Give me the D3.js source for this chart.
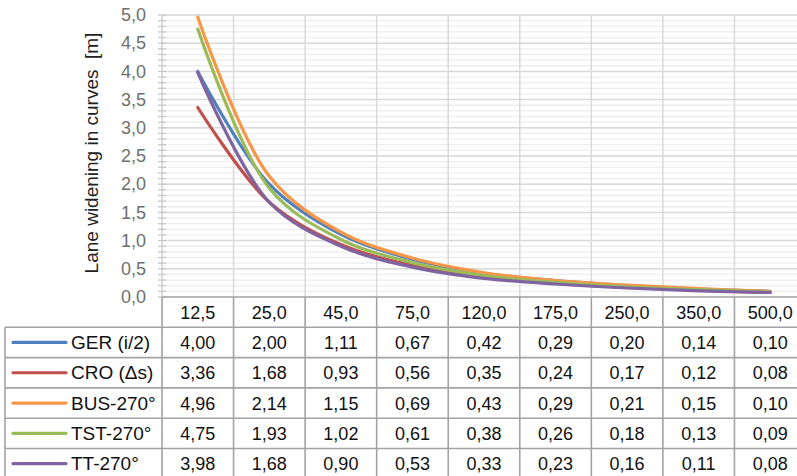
<!DOCTYPE html>
<html>
<head>
<meta charset="utf-8">
<script src="https://cdn.jsdelivr.net/npm/d3@7"></script>
<style>
  body { margin: 0; background: #fff; }
  text { font-family: "Liberation Sans", Arial, sans-serif; }
</style>
</head>
<body>
<svg id="chart" width="797" height="476"></svg>
<script>
// radii (category labels)
var radii = ["12,5", "25,0", "45,0", "75,0", "120,0", "175,0", "250,0", "350,0", "500,0"];
var seriesNames = ["GER (i/2)", "CRO (\u0394s)", "BUS-270\u00b0", "TST-270\u00b0", "TT-270\u00b0"];
var ger = [4.00, 2.00, 1.11, 0.67, 0.42, 0.29, 0.20, 0.14, 0.10];
var cro = [3.36, 1.68, 0.93, 0.56, 0.35, 0.24, 0.17, 0.12, 0.08];
var bus = [4.96, 2.14, 1.15, 0.69, 0.43, 0.29, 0.21, 0.15, 0.10];
var tst = [4.75, 1.93, 1.02, 0.61, 0.38, 0.26, 0.18, 0.13, 0.09];
var tt  = [3.98, 1.68, 0.90, 0.53, 0.33, 0.23, 0.16, 0.11, 0.08];
var colors = ["#4f81bd", "#c0504d", "#f79646", "#9bbb59", "#8064a2"];
var yTicks = [0, 0.5, 1, 1.5, 2, 2.5, 3, 3.5, 4, 4.5, 5];

var allSeries = [ger, cro, bus, tst, tt];

var svg = d3.select("#chart");
var pLeft = 162, pRight = 806, pTop = 15, pBottom = 297;
var rowH = 30.3;
var fs = "18px";

var x = d3.scaleBand().domain(radii).range([pLeft, pRight]);
var y = d3.scaleLinear().domain([0, 5]).range([pBottom, pTop]);

var fmt = function(v){ return v.toFixed(2).replace(".", ","); };

// minor gridlines (0.1)
var minor = d3.range(0, 51).map(function(d){ return d / 10; });
svg.append("g").selectAll("line").data(minor).enter().append("line")
  .attr("x1", pLeft).attr("x2", pRight)
  .attr("y1", function(d){ return y(d); }).attr("y2", function(d){ return y(d); })
  .attr("stroke", "#eeeeee").attr("stroke-width", 1.3);

// major gridlines
svg.append("g").selectAll("line").data(yTicks.slice(1)).enter().append("line")
  .attr("x1", pLeft).attr("x2", pRight)
  .attr("y1", function(d){ return y(d); }).attr("y2", function(d){ return y(d); })
  .attr("stroke", "#d9d9d9").attr("stroke-width", 1.5);

// vertical gridlines at category boundaries
svg.append("g").selectAll("line").data(radii.slice(1)).enter().append("line")
  .attr("x1", function(d){ return x(d); }).attr("x2", function(d){ return x(d); })
  .attr("y1", pTop).attr("y2", pBottom)
  .attr("stroke", "#d9d9d9").attr("stroke-width", 1.5);

// y axis with minor ticks
svg.append("line").attr("x1", pLeft).attr("x2", pLeft).attr("y1", pTop).attr("y2", pBottom)
  .attr("stroke", "#d0d0d0").attr("stroke-width", 1.5);
svg.append("g").selectAll("line").data(minor).enter().append("line")
  .attr("x1", pLeft - 4).attr("x2", pLeft + 4)
  .attr("y1", function(d){ return y(d); }).attr("y2", function(d){ return y(d); })
  .attr("stroke", "#c8c8c8").attr("stroke-width", 1.3);

var yAxis = d3.axisLeft(y).tickValues(yTicks).tickSize(0).tickPadding(16)
  .tickFormat(function(d){ return d.toFixed(1).replace(".", ","); });
var ya = svg.append("g").attr("transform", "translate(" + pLeft + ",0)").call(yAxis);
ya.select(".domain").remove();
ya.selectAll("text").attr("fill", "#6f6f6f").style("font-size", fs)
  .style("font-family", "'Liberation Sans', Arial, sans-serif");

// y title
svg.append("text")
  .attr("transform", "translate(98,153) rotate(-90)")
  .attr("text-anchor", "middle")
  .style("font-size", "19px").attr("fill", "#222")
  .attr("xml:space", "preserve")
  .text("Lane widening in curves  [m]");

// lines
var line = d3.line()
  .x(function(d, i){ return x(radii[i]) + x.bandwidth() / 2; })
  .y(function(d){ return y(d); })
  .curve(d3.curveCatmullRom.alpha(0.5));

svg.append("g").selectAll("path").data(allSeries).enter().append("path")
  .attr("d", line)
  .attr("fill", "none")
  .attr("stroke", function(d, i){ return colors[i]; })
  .attr("stroke-width", 3.2)
  .attr("stroke-linecap", "round");

// data table
var tbl = svg.append("g");
var tableColor = "#a3a3a3";
var tableBottom = pBottom + rowH * 6 + 5;

// header row text
tbl.selectAll("text.hdr").data(radii).enter().append("text")
  .attr("x", function(d){ return x(d) + x.bandwidth() / 2; })
  .attr("y", pBottom + rowH / 2 + 6.5)
  .attr("text-anchor", "middle")
  .style("font-size", fs).attr("fill", "#111")
  .text(function(d){ return d; });

// horizontal table lines
var hLines = d3.range(0, 6);
tbl.selectAll("line.h").data(hLines).enter().append("line")
  .attr("x1", function(d){ return d === 0 ? pLeft : 5; })
  .attr("x2", pRight)
  .attr("y1", function(d){ return pBottom + rowH * d; })
  .attr("y2", function(d){ return pBottom + rowH * d; })
  .attr("stroke", tableColor).attr("stroke-width", 1.6);

// vertical table lines
tbl.selectAll("line.v").data(radii).enter().append("line")
  .attr("x1", function(d){ return x(d); }).attr("x2", function(d){ return x(d); })
  .attr("y1", pBottom).attr("y2", tableBottom)
  .attr("stroke", tableColor).attr("stroke-width", 1.6);
tbl.append("line").attr("x1", 5).attr("x2", 5)
  .attr("y1", pBottom + rowH).attr("y2", tableBottom)
  .attr("stroke", tableColor).attr("stroke-width", 1.6);

// rows
allSeries.forEach(function(s, r){
  var cy = pBottom + rowH * (r + 1) + rowH / 2;
  tbl.append("line").attr("x1", 13).attr("x2", 66)
    .attr("y1", cy).attr("y2", cy)
    .attr("stroke", colors[r]).attr("stroke-width", 3.2).attr("stroke-linecap", "round");
  tbl.append("text").attr("x", 71).attr("y", cy + 6.5)
    .style("font-size", "19px").attr("fill", "#111")
    .text(seriesNames[r]);
  tbl.selectAll(null).data(s).enter().append("text")
    .attr("x", function(d, i){ return x(radii[i]) + x.bandwidth() / 2; })
    .attr("y", cy + 6.5)
    .attr("text-anchor", "middle")
    .style("font-size", fs).attr("fill", "#111")
    .text(fmt);
});
</script>
</body>
</html>
